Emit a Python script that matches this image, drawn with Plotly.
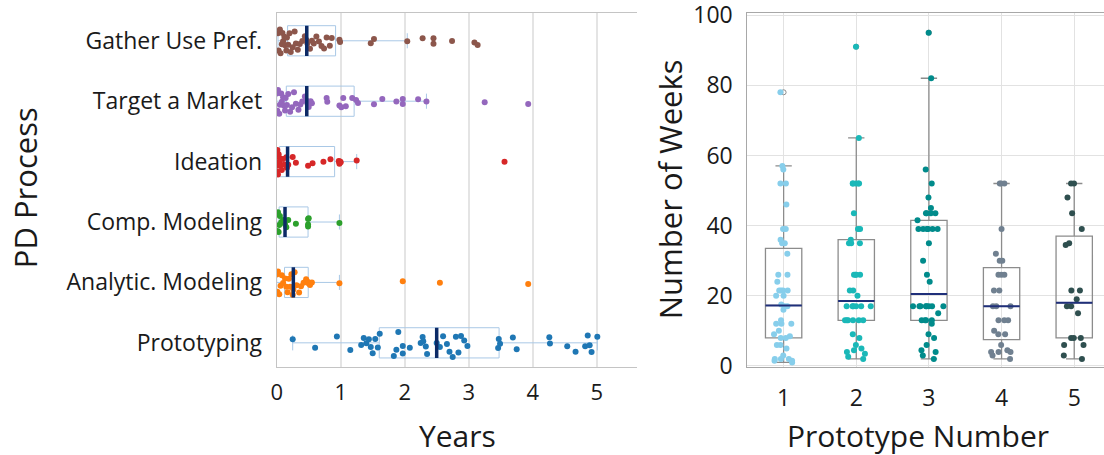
import numpy as np
import plotly.graph_objects as go

# ---------------- Left chart data (years) ----------------
processes = ["Prototyping", "Analytic. Modeling", "Comp. Modeling",
             "Ideation", "Target a Market", "Gather Use Pref."]

prototyping = [0.25, 0.60, 0.94, 1.15, 1.32, 1.36, 1.40, 1.44, 1.47, 1.50, 1.54, 1.58,
               1.61, 1.83, 1.87, 1.90, 1.97, 1.97, 2.08, 2.25, 2.28, 2.29, 2.33, 2.35,
               2.50, 2.55, 2.60, 2.66, 2.70, 2.75, 2.80, 2.84, 2.88, 2.93, 2.98, 3.46,
               3.47, 3.49, 3.69, 3.75, 4.26, 4.27, 4.54, 4.67, 4.82, 4.86, 4.89, 4.92, 5.01]
analytic_modeling = [0.0, 0.01, 0.02, 0.04, 0.06, 0.08, 0.10, 0.13, 0.15, 0.17, 0.19, 0.21,
                     0.23, 0.25, 0.26, 0.28, 0.31, 0.35, 0.38, 0.42, 0.46, 0.49, 0.50, 0.52,
                     0.55, 0.98, 1.97, 2.55, 3.93]
comp_modeling = [0.0, 0.01, 0.02, 0.03, 0.04, 0.05, 0.07, 0.10, 0.13, 0.15, 0.18, 0.30,
                 0.49, 0.49, 0.49, 0.50, 0.98]
ideation = [0.0, 0.01, 0.01, 0.02, 0.03, 0.03, 0.04, 0.05, 0.06, 0.08, 0.10, 0.12, 0.15,
            0.16, 0.18, 0.25, 0.30, 0.49, 0.56, 0.73, 0.84, 0.97, 0.98, 0.98, 0.99, 1.0,
            1.25, 3.56]
target_a_market = [0.0, 0.01, 0.02, 0.04, 0.05, 0.07, 0.08, 0.10, 0.11, 0.13, 0.14, 0.16,
                   0.18, 0.21, 0.24, 0.27, 0.30, 0.34, 0.37, 0.40, 0.44, 0.46, 0.48, 0.50,
                   0.53, 0.55, 0.78, 0.79, 0.98, 1.01, 1.04, 1.08, 1.18, 1.24, 1.27, 1.52,
                   1.65, 1.87, 1.97, 1.97, 2.21, 2.34, 3.25, 3.93]
gather_use_pref = [0.02, 0.03, 0.05, 0.06, 0.08, 0.09, 0.10, 0.12, 0.13, 0.15, 0.16, 0.18,
                   0.20, 0.22, 0.25, 0.28, 0.30, 0.33, 0.36, 0.40, 0.44, 0.46, 0.48, 0.52,
                   0.55, 0.58, 0.62, 0.66, 0.70, 0.74, 0.78, 0.83, 0.86, 0.98, 0.99, 1.47,
                   1.52, 2.04, 2.28, 2.45, 2.45, 2.74, 3.09, 3.14]
process_values = [prototyping, analytic_modeling, comp_modeling,
                  ideation, target_a_market, gather_use_pref]
process_colors = ["#1f77b4", "#ff7f0e", "#2ca02c", "#d62728", "#9467bd", "#8c564b"]
year_ticks = [0, 1, 2, 3, 4, 5]

# ---------------- Right chart data (weeks) ----------------
prototype_numbers = [1, 2, 3, 4, 5]
proto_1 = [1, 1.5, 1.5, 2, 2, 2, 3, 5, 6, 6, 8, 8, 8.5, 9, 10, 12, 12, 12, 13, 16, 17, 17,
           17.5, 20, 20, 21.5, 21.5, 21.5, 21.5, 24, 26, 26, 32, 35, 35, 36, 39, 39, 46, 52,
           52, 56, 57, 78]
proto_2 = [2, 2.6, 3.5, 4, 4.5, 5, 6, 8, 9, 13, 13, 13, 13, 13, 13, 17, 17, 17, 17, 17, 17,
           20, 21.5, 21.5, 26, 26, 26, 26, 35, 35, 35, 36, 39, 39, 43.5, 52, 52, 52, 52, 52,
           65, 91]
proto_3 = [2, 3, 4, 4.5, 6, 8, 9, 12, 13, 13, 13, 13, 15, 17, 17, 17, 17, 17, 17, 17, 17,
           24, 26, 30, 35, 39, 39, 39, 39, 39, 39, 41.5, 43.5, 43.5, 43.5, 43.5, 45, 48, 52,
           56, 82, 95]
proto_4 = [2, 3, 4, 4, 4, 4.5, 6, 9, 9, 10, 13, 13, 13, 17, 17, 17, 21.5, 21.5, 26, 26, 26,
           30, 30, 32, 39, 52, 52, 52]
proto_5 = [2, 3, 6, 6, 8, 8, 8, 15, 17, 17, 19, 21.5, 21.5, 34.5, 35, 39, 43.5, 48, 52, 52]
proto_values = [proto_1, proto_2, proto_3, proto_4, proto_5]
proto_colors = ["#87ceeb", "#1ab8b8", "#008b8b", "#708090", "#2f4f4f"]
week_ticks = [0, 20, 40, 60, 80, 100]

FONT = "Open Sans"
TXT = "#1a1a1a"
NAVY = "#0c2a66"
CLEAR = "rgba(0,0,0,0)"

fig = go.Figure()

# Left: horizontal boxes with jittered points
for name, vals, col in zip(processes, process_values, process_colors):
    fig.add_trace(go.Box(
        x=vals, y=[name] * len(vals), orientation="h", xaxis="x", yaxis="y",
        boxpoints="all", jitter=1.0, pointpos=0, width=0.5, whiskerwidth=0.5,
        line=dict(color="#a9c8e6", width=1), fillcolor=CLEAR,
        marker=dict(color=col, size=6), showlegend=False))
    m = float(np.median(vals))
    fig.add_trace(go.Box(
        y=[name], q1=[m], median=[m], q3=[m], lowerfence=[m], upperfence=[m],
        orientation="h", xaxis="x", yaxis="y", width=0.5, whiskerwidth=0,
        line=dict(color=NAVY, width=3.5), fillcolor=CLEAR, boxpoints=False,
        showlegend=False, hoverinfo="skip"))

# Right: vertical boxes with outliers + jittered points
for k, vals, col in zip(prototype_numbers, proto_values, proto_colors):
    pos = [k] * len(vals)
    fig.add_trace(go.Box(
        x=pos, y=vals, xaxis="x2", yaxis="y2", boxpoints="outliers", pointpos=0,
        width=0.5, whiskerwidth=0.45, line=dict(color="#8c8c8c", width=1.3),
        fillcolor=CLEAR, marker=dict(symbol="circle-open", color="#8c8c8c", size=5),
        showlegend=False))
    fig.add_trace(go.Box(
        x=pos, y=vals, xaxis="x2", yaxis="y2", boxpoints="all", jitter=0.9, pointpos=0,
        width=0.5, line=dict(color=CLEAR, width=0), fillcolor=CLEAR,
        marker=dict(color=col, size=6), showlegend=False))
    m = float(np.median(vals))
    fig.add_trace(go.Box(
        x=[k], q1=[m], median=[m], q3=[m], lowerfence=[m], upperfence=[m],
        xaxis="x2", yaxis="y2", width=0.5, whiskerwidth=0,
        line=dict(color="#1f2f7a", width=2), fillcolor=CLEAR, boxpoints=False,
        showlegend=False, hoverinfo="skip"))

W, H = 1104, 455
T, B = 12.5, 88
PH = H - T - B


def py(y_px):
    return 1 - (y_px - T) / PH


fig.update_layout(
    width=W, height=H, boxmode="overlay",
    margin=dict(l=0, r=0, t=T, b=B, pad=0, autoexpand=False),
    paper_bgcolor="white", plot_bgcolor="white",
    font=dict(family=FONT, color=TXT),
    xaxis=dict(domain=[276.7 / W, 637 / W], range=[0, 5.63], tickvals=year_ticks,
               automargin=False, showgrid=True, gridcolor="#e4e4e4", gridwidth=1.5,
               zeroline=False, showline=True, linecolor="#c4c4c4", linewidth=1, mirror=True,
               ticks="outside", ticklen=6, tickcolor=CLEAR, ticklabeloverflow="allow",
               tickfont=dict(size=22, family=FONT, color=TXT)),
    yaxis=dict(domain=[0, 1], type="category", categoryorder="array",
               categoryarray=processes, range=[-0.4, 5.46], showgrid=False,
               automargin=False, zeroline=False, showline=True, linecolor="#c4c4c4",
               linewidth=1, ticks="outside", ticklen=9, tickcolor=CLEAR,
               ticklabeloverflow="allow",
               tickfont=dict(size=23, family=FONT, color=TXT)),
    xaxis2=dict(domain=[747.3 / W, 1.0], range=[0.5, 5.41], tickvals=prototype_numbers,
                automargin=False, showgrid=True, gridcolor="#e2e2e2", gridwidth=1,
                zeroline=False, showline=True, linecolor="#a8a8a8", linewidth=1, mirror=True,
                ticks="outside", ticklen=10, tickcolor=CLEAR, ticklabeloverflow="allow",
                tickfont=dict(size=23, family=FONT, color=TXT)),
    yaxis2=dict(domain=[0, 1], anchor="x2", range=[-0.3, 100.6], tickvals=week_ticks,
                automargin=False, showgrid=True, gridcolor="#e2e2e2", gridwidth=1,
                zeroline=False, showline=True, linecolor="#a8a8a8", linewidth=1,
                ticks="outside", ticklen=9, tickcolor=CLEAR, ticklabeloverflow="allow",
                tickfont=dict(size=23, family=FONT, color=TXT)),
    annotations=[
        dict(text="PD Process", xref="paper", yref="paper", x=25 / W, y=py(188),
             textangle=-90, showarrow=False, font=dict(size=31, family=FONT, color=TXT),
             xanchor="center", yanchor="middle"),
        dict(text="Years", xref="paper", yref="paper", x=457 / W, y=py(436),
             showarrow=False, font=dict(size=30, family=FONT, color=TXT),
             xanchor="center", yanchor="middle"),
        dict(text="Number of Weeks", xref="paper", yref="paper", x=670 / W, y=py(189),
             textangle=-90, showarrow=False, font=dict(size=31, family=FONT, color=TXT),
             xanchor="center", yanchor="middle"),
        dict(text="Prototype Number", xref="paper", yref="paper", x=918 / W, y=py(436),
             showarrow=False, font=dict(size=30, family=FONT, color=TXT),
             xanchor="center", yanchor="middle"),
    ],
)

fig.write_html(
    "out.html",
    config={"displayModeBar": False},
    post_script="document.body.style.margin='0';document.body.style.overflow='hidden';",
)
